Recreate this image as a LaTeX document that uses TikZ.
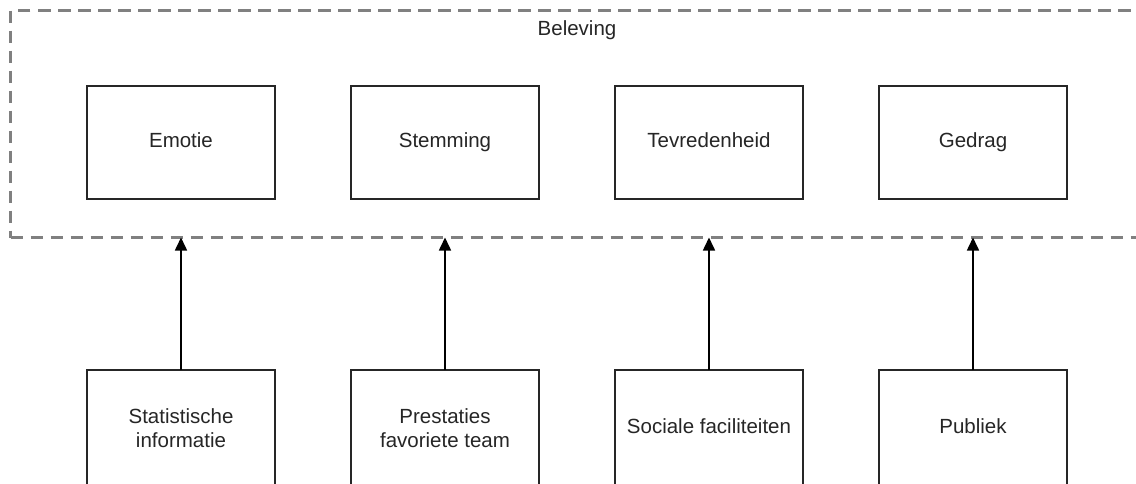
\documentclass[tikz,border=0pt]{standalone}
\usepackage{fontspec}
\setmainfont{Liberation Sans}
\usetikzlibrary{arrows.meta}
\begin{document}
\begin{tikzpicture}[x=1pt,y=-1pt,
  box/.style={draw=black!85, line width=1.6pt, minimum width=188pt, minimum height=113pt, inner sep=0pt, outer sep=0pt, fill=white, font=\fontsize{20.5}{24}\selectfont, text=black!85, align=center},
  oneline/.style={text height=14.5pt, text depth=4.5pt},
  lowbox/.style={box, minimum height=116pt},
  group/.style={draw=black!50, line width=2.4pt, dash pattern=on 12.5pt off 7.5pt, inner sep=0pt, outer sep=0pt},
  title/.style={font=\fontsize{20.5}{24}\selectfont, text=black!85, text height=14.5pt, text depth=4.5pt},
  link/.style={draw=black, line width=1.6pt, -{Triangle[length=13pt,width=12pt]}}
]
\useasboundingbox (0,0) rectangle (1136,483);
\node[group, minimum width=1126.5pt, minimum height=227pt] (bel) at (573.75,124) {};
\node[title] (beltitle) at (577,30) {Beleving};
\node[box, oneline] (emo) at (181,142.5) {Emotie};
\node[box, oneline] (stem) at (445,142.5) {Stemming};
\node[box, oneline] (tev) at (709,142.5) {Tevredenheid};
\node[box, oneline] (ged) at (973,142.5) {Gedrag};
\node[lowbox] (stat) at (181,428) {Statistische\\informatie};
\node[lowbox] (pres) at (445,428) {Prestaties\\favoriete team};
\node[lowbox, oneline] (soc) at (709,428) {Sociale faciliteiten};
\node[lowbox, oneline] (pub) at (973,428) {Publiek};
\foreach \n in {stat,pres,soc,pub}
  \draw[link] (\n.north) -- (\n.north |- bel.south);
\end{tikzpicture}
\end{document}
